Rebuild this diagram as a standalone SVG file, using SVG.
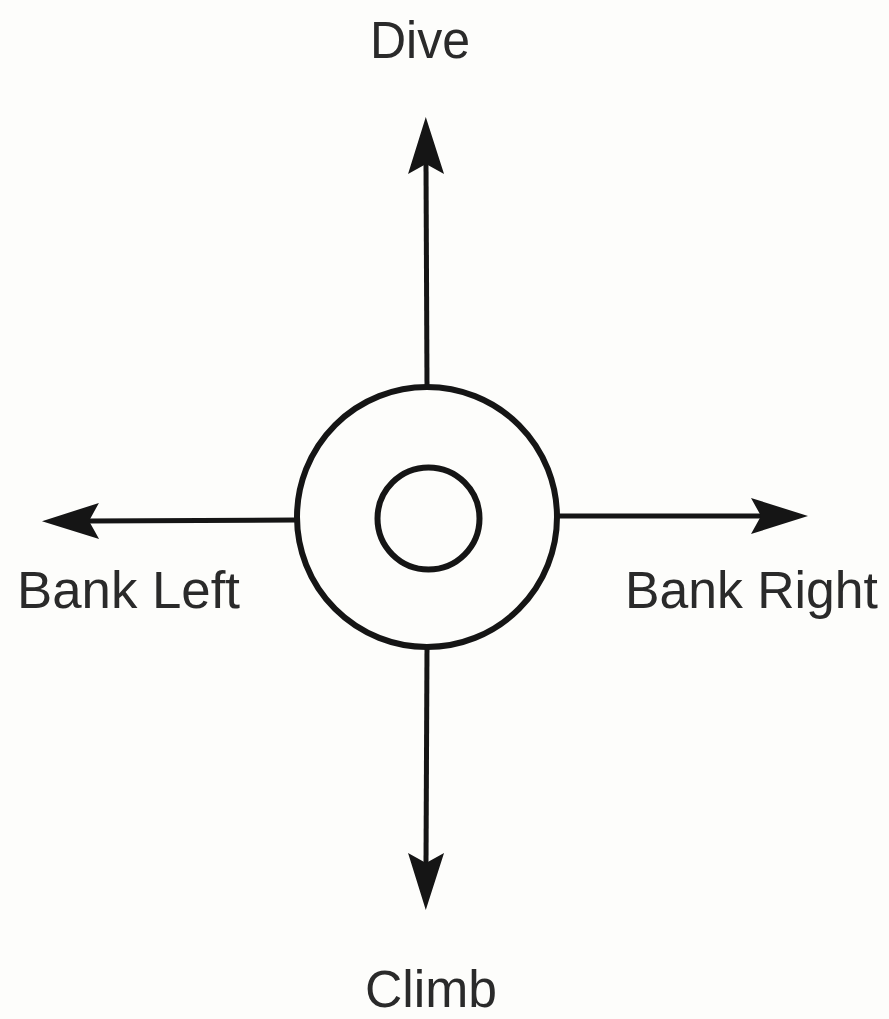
<svg xmlns="http://www.w3.org/2000/svg" width="889" height="1019" viewBox="0 0 889 1019">
<style>
.lbl{font-family:"Liberation Sans",Arial,sans-serif;font-size:51px;fill:#2a2a2a}
.ring{fill:none;stroke:#151515;stroke-width:6}
.shaft{fill:none;stroke:#151515;stroke-width:5}
</style>
<defs>
<marker id="head" markerUnits="userSpaceOnUse" orient="auto" refX="0" refY="0" markerWidth="80" markerHeight="50" viewBox="-20 -25 80 50" overflow="visible">
<path d="M47,0 L-10,-18 L0,0 L-10,18 Z" fill="#151515"/>
</marker>
</defs>
<rect width="889" height="1019" fill="#fdfdfb"/>
<g id="connectors">
<line class="shaft" x1="427" y1="387" x2="426" y2="164" marker-end="url(#head)"/>
<line class="shaft" x1="295" y1="520" x2="89" y2="521" marker-end="url(#head)"/>
<line class="shaft" x1="558" y1="516" x2="761" y2="516" marker-end="url(#head)"/>
<line class="shaft" x1="427" y1="647" x2="426" y2="863" marker-end="url(#head)"/>
</g>
<g id="center">
<circle class="ring" cx="427" cy="517" r="130"/>
<circle class="ring" cx="428.5" cy="518.5" r="51" stroke-width="5"/>
</g>
<g id="dive"><text class="lbl" x="370" y="58" textLength="100" lengthAdjust="spacingAndGlyphs">Dive</text></g>
<g id="bank-left"><text class="lbl" x="17" y="608" textLength="223" lengthAdjust="spacingAndGlyphs">Bank Left</text></g>
<g id="bank-right"><text class="lbl" x="625" y="608" textLength="253" lengthAdjust="spacingAndGlyphs">Bank Right</text></g>
<g id="climb"><text class="lbl" x="365" y="1007" textLength="132" lengthAdjust="spacingAndGlyphs">Climb</text></g>
</svg>
